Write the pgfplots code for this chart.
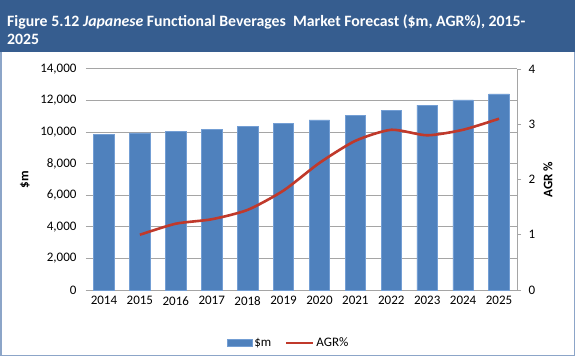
\documentclass[border=0pt]{standalone}
\usepackage{pgfplots}
\pgfplotsset{compat=1.18}
\usepackage{fontspec}
\setmainfont{Carlito}
\definecolor{titleblue}{RGB}{54,93,143}
\definecolor{framecol}{RGB}{140,165,200}
\definecolor{barblue}{RGB}{79,129,189}
\definecolor{baredge}{RGB}{115,158,212}
\definecolor{agrred}{RGB}{192,57,43}
\definecolor{gridgray}{RGB}{165,165,165}
\begin{document}
\begin{tikzpicture}[x=1pt,y=1pt]
\useasboundingbox (0,0) rectangle (575,356);
\fill[white] (0,0) rectangle (575,356);
\fill[titleblue] (0,303.5) rectangle (575,356);
\draw[framecol, line width=1.5pt] (0.75,303.5) -- (0.75,0.75) -- (574.25,0.75) -- (574.25,303.5);
\node[anchor=base west, text=white, font=\bfseries\fontsize{15.8}{18}\selectfont, inner sep=0pt] at (7,329) {Figure 5.12 \textit{Japanese} Functional Beverages\ \ Market Forecast (\$m, AGR\%), 2015-};
\node[anchor=base west, text=white, font=\bfseries\fontsize{15.8}{18}\selectfont, inner sep=0pt] at (7,311) {2025};
\begin{axis}[at={(86pt,66pt)}, anchor=south west, width=431pt, height=221pt, scale only axis,
  xmin=-0.5, xmax=11.5, ymin=0, ymax=14000,
  xtick={0,...,11}, xticklabels={2014,2015,2016,2017,2018,2019,2020,2021,2022,2023,2024,2025},
  ytick={0,2000,...,14000},
  scaled y ticks=false,
  ymajorgrids, grid style={gridgray, line width=1pt},
  axis x line*=bottom, axis y line*=left,
  x axis line style={gridgray, line width=1pt, -},
  y axis line style={draw=none},
  major tick length=0pt,
  tick label style={font=\fontsize{13}{15}\selectfont},
  xticklabel style={yshift=-3pt},
  yticklabel style={xshift=-6pt, /pgf/number format/.cd, fixed, 1000 sep={,}, assume math mode=true},
  ylabel={\textbf{\$m}},
  ylabel style={at={(axis description cs:-0.142,0.5)}, anchor=center, font=\fontsize{13}{15}\selectfont},
  ybar, bar width=20.5pt,
  legend columns=2,
  legend style={at={(0.47,-0.24)}, anchor=center, draw=none, fill=none, font=\fontsize{13}{15}\selectfont,
    /tikz/every even column/.append style={column sep=12pt}},
]
\addplot[fill=barblue, draw=baredge, line width=0.6pt,
  legend image code/.code={\draw[fill=barblue, draw=baredge] (0pt,-3.5pt) rectangle (25pt,3.5pt);}]
  coordinates {(0,9850) (1,9948) (2,10068) (3,10199) (4,10347) (5,10533) (6,10775) (7,11066) (8,11387) (9,11706) (10,12045) (11,12418)};
\addlegendentry{\$m}
\addlegendimage{legend image code/.code={\draw[agrred, line width=2.2pt] (0pt,0pt) -- (27pt,0pt);}}
\addlegendentry{AGR\%}
\end{axis}
\begin{axis}[at={(86pt,66pt)}, anchor=south west, width=431pt, height=221pt, scale only axis,
  xmin=-0.5, xmax=11.5, ymin=0, ymax=4, ytick={0,1,2,3,4},
  axis y line*=right, hide x axis,
  y axis line style={gridgray, line width=1pt, -},
  ytick style={gridgray, line width=1pt},
  major tick length=4pt, tick align=outside,
  tick label style={font=\fontsize{13}{15}\selectfont},
  yticklabel style={xshift=4pt},
  /pgf/number format/assume math mode=true,
  ylabel={\textbf{AGR \%}},
  ylabel style={at={(axis description cs:1.072,0.5)}, anchor=center, rotate=0, font=\fontsize{13}{15}\selectfont},
]
\addplot[agrred, line width=2.6pt, smooth, tension=0.4] coordinates {(1,1.0) (2,1.2) (3,1.28) (4,1.45) (5,1.8) (6,2.3) (7,2.7) (8,2.9) (9,2.8) (10,2.9) (11,3.1)};
\end{axis}
\end{tikzpicture}
\end{document}
